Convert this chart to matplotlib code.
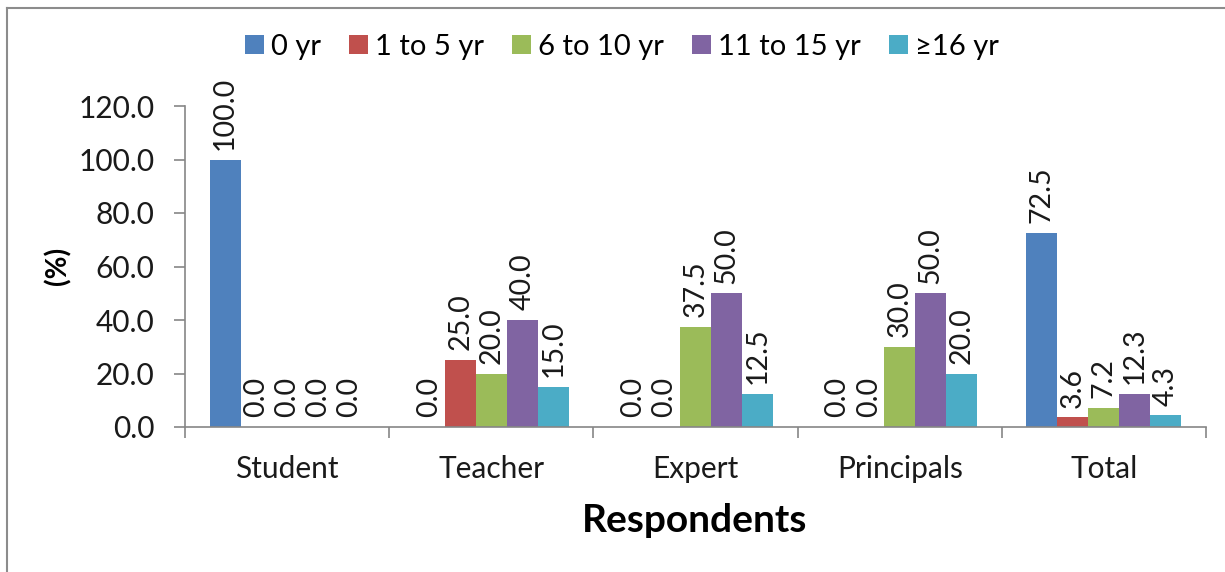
import numpy as np
import matplotlib
matplotlib.use("Agg")
import matplotlib.pyplot as plt
from matplotlib.lines import Line2D

plt.rcParams['font.family'] = ['Lato', 'DejaVu Sans']

categories = ["Student", "Teacher", "Expert", "Principals", "Total"]
series_names = ["0 yr", "1 to 5 yr", "6 to 10 yr", "11 to 15 yr", "\u226516 yr"]
yr_0 = [100.0, 0.0, 0.0, 0.0, 72.5]
yr_1_5 = [0.0, 25.0, 0.0, 0.0, 3.6]
yr_6_10 = [0.0, 20.0, 37.5, 30.0, 7.2]
yr_11_15 = [0.0, 40.0, 50.0, 50.0, 12.3]
yr_16 = [0.0, 15.0, 12.5, 20.0, 4.3]
series = [yr_0, yr_1_5, yr_6_10, yr_11_15, yr_16]
colors = ["#4F81BD", "#C0504D", "#9BBB59", "#8064A2", "#4BACC6"]

fig = plt.figure(figsize=(12.25, 5.72), dpi=100)
ax = fig.add_axes([185 / 1225, 1 - 427 / 572, 1021 / 1225, 321 / 572])

x = np.arange(len(categories))
bw = 0.152
for i, (vals, name, c) in enumerate(zip(series, series_names, colors)):
    pos = x + (i - 2) * bw
    ax.bar(pos, vals, width=bw, color=c, label=name, zorder=2)
    for px, v in zip(pos, vals):
        ax.annotate(f"{v:.1f}", (px, v), xytext=(0, 7), textcoords="offset points",
                    rotation=90, ha="center", va="bottom", fontsize=20.5,
                    color="#1a1a1a")

ax.set_xlim(-0.5, len(categories) - 0.5)
ax.set_ylim(0, 120)
ax.set_yticks(np.arange(0, 121, 20))
ax.set_yticklabels([f"{v:.1f}" for v in np.arange(0, 121, 20)])
ax.set_xticks(x)
ax.set_xticklabels(categories)
ax.set_xticks(np.arange(-0.5, len(categories), 1), minor=True)

axis_grey = "#868686"
for side in ("top", "right"):
    ax.spines[side].set_visible(False)
for side in ("left", "bottom"):
    ax.spines[side].set_color(axis_grey)
    ax.spines[side].set_linewidth(1.2)
ax.tick_params(axis="y", direction="out", length=8, width=1.2, color=axis_grey,
               labelsize=21.5, pad=14, labelcolor="#1a1a1a")
ax.tick_params(axis="x", which="major", length=0, labelsize=21.5, pad=20,
               labelcolor="#1a1a1a")
ax.tick_params(axis="x", which="minor", direction="out", length=8, width=1.2,
               color=axis_grey)

fig.text(58 / 1225, 1 - 266 / 572, "(%)", rotation=90, ha="center", va="center",
         fontsize=20, fontweight="bold")
fig.text(695 / 1225, 1 - 521 / 572, "Respondents", ha="center", va="center",
         fontsize=28, fontweight="bold")

fig.legend(loc="center", bbox_to_anchor=(622 / 1225, 1 - 47 / 572), ncol=5,
           frameon=False, fontsize=21, handlelength=0.65, handleheight=0.65,
           handletextpad=0.25, columnspacing=0.95)

# outer chart frame (left and top edges)
fig.add_artist(Line2D([7 / 1225, 7 / 1225], [0, 1 - 8 / 572], transform=fig.transFigure,
                      color="#8c8c8c", linewidth=1.5))
fig.add_artist(Line2D([7 / 1225, 1], [1 - 8 / 572, 1 - 8 / 572], transform=fig.transFigure,
                      color="#8c8c8c", linewidth=1.5))

fig.savefig("out.png", dpi=100)
